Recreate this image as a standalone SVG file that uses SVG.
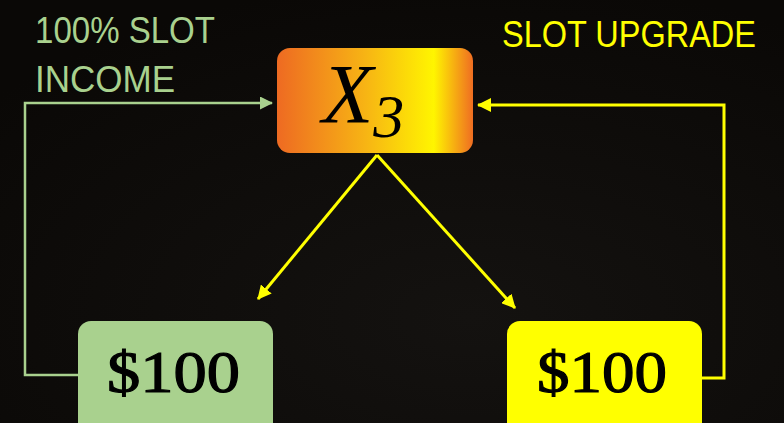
<svg xmlns="http://www.w3.org/2000/svg" width="784" height="423" viewBox="0 0 784 423">
<defs>
<linearGradient id="gTop" x1="0" y1="0" x2="1" y2="0">
<stop offset="0" stop-color="#EE6A22"/>
<stop offset="0.45" stop-color="#F7B414"/>
<stop offset="0.8" stop-color="#FFF500"/>
<stop offset="1" stop-color="#EF6D22"/>
</linearGradient>
<radialGradient id="bg" cx="0.6" cy="0.75" r="0.8">
<stop offset="0" stop-color="#141210"/>
<stop offset="1" stop-color="#0a0806"/>
</radialGradient>
<marker id="arrG" markerWidth="13" markerHeight="13" refX="12" refY="6.5" orient="auto" markerUnits="userSpaceOnUse" viewBox="0 0 13 13">
<path d="M0,0 L13,6.5 L0,13 z" fill="#A9D18E"/>
</marker>
<marker id="arrY" markerWidth="14" markerHeight="14" refX="13" refY="7" orient="auto" markerUnits="userSpaceOnUse" viewBox="0 0 14 14">
<path d="M0,0 L14,7 L0,14 z" fill="#FFFF00"/>
</marker>
</defs>
<style>
.lbl{font-family:"Liberation Sans",Arial,sans-serif;font-size:36px}
.amt{font-family:"Liberation Serif","Times New Roman",serif;font-size:60px;fill:#000;stroke:#000;stroke-width:1.2}
.cg{fill:none;stroke:#A9D18E;stroke-width:2.5}
.cy{fill:none;stroke:#FFFF00;stroke-width:3}
</style>
<rect width="784" height="423" fill="url(#bg)"/>
<g id="labels">
<text class="lbl" x="35" y="43" fill="#A9D18E" textLength="180" lengthAdjust="spacingAndGlyphs">100% SLOT</text>
<text class="lbl" x="35" y="92" fill="#A9D18E" textLength="140" lengthAdjust="spacingAndGlyphs">INCOME</text>
<text class="lbl" x="502" y="47" fill="#FFFF00" textLength="254" lengthAdjust="spacingAndGlyphs">SLOT UPGRADE</text>
</g>
<g id="connectors">
<polyline class="cg" points="78,375 25,375 25,103 272,103" marker-end="url(#arrG)"/>
<polyline class="cy" points="702,378 724,378 724,105 478,105" marker-end="url(#arrY)"/>
<line class="cy" x1="377" y1="155" x2="258" y2="299" marker-end="url(#arrY)"/>
<line class="cy" x1="377" y1="155" x2="515" y2="308" marker-end="url(#arrY)"/>
</g>
<g id="node-x3">
<rect x="277" y="48" width="196" height="105" rx="13" fill="url(#gTop)"/>
<text x="322" y="123" font-family="'Liberation Serif','Times New Roman',serif" font-style="italic" font-size="84" fill="#000">X<tspan font-size="62" dy="14">3</tspan></text>
</g>
<g id="node-left">
<rect x="78" y="321" width="195" height="120" rx="13" fill="#A9D18E"/>
<text class="amt" x="107" y="392" textLength="133" lengthAdjust="spacingAndGlyphs">$100</text>
</g>
<g id="node-right">
<rect x="507" y="321" width="195" height="120" rx="13" fill="#FFFF00"/>
<text class="amt" x="537" y="392" textLength="130" lengthAdjust="spacingAndGlyphs">$100</text>
</g>
</svg>
